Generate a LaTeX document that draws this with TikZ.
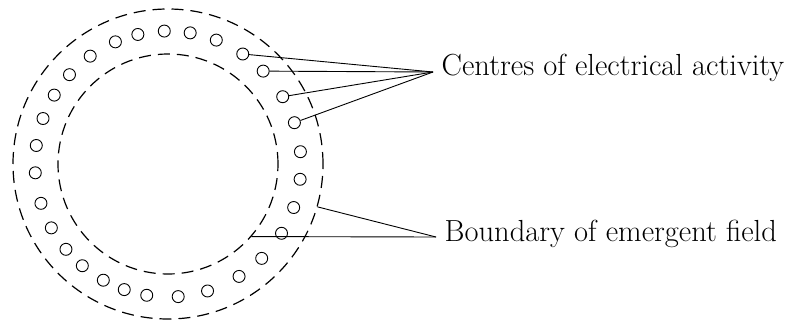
\documentclass[tikz,border=0pt]{standalone}
\usepackage{tikz}
\usetikzlibrary{positioning}

\begin{document}
\begin{tikzpicture}[
    x=1pt, y=1pt,
    ring/.style={
        draw=black,
        circle,
        inner sep=0pt,
        line width=1.2pt,
        dash pattern=on 12pt off 7pt,
    },
    dot/.style={
        draw=black,
        circle,
        inner sep=0pt,
        minimum size=12pt,
        line width=0.9pt,
    },
    lbl/.style={
        anchor=base west,
        inner xsep=8.5pt,
        font=\fontsize{30.5}{36}\selectfont,
    },
    leader/.style={
        line width=0.9pt,
        color=black,
    },
]
\useasboundingbox (-168,-158) rectangle (625,164);

\node[ring,minimum size=310pt] (outer) at (0,0) {};
\node[ring,minimum size=220pt] (inner) at (0,0) {};

% centres round the ring
\foreach \a [count=\i from 0] in {5.3,18.1,30.4,44.3,55.8,68.7,80.4,91.6,103.1,113.3,
    125.8,137.8,148.8,160,172,183.8,197.2,208.7,219.9,229.9,
    240.9,250.8,260.8,274.4,287.3,302.3,314.8,328.6,340.9,353.4}
    \node[dot] (c\i) at (\a:133) {};

\node[lbl] (centres) at (265,89) {Centres of electrical activity};
\node[lbl] (bound) at (268,-77) {Boundary of emergent field};

\foreach \i in {1,...,4}
    \draw[leader] (c\i) -- ([yshift=3pt]centres.base west);

\draw[leader] (outer.-16) -- ([yshift=4pt]bound.base west);
\draw[leader] (inner.-41.6) -- ([yshift=4pt]bound.base west);
\end{tikzpicture}
\end{document}
